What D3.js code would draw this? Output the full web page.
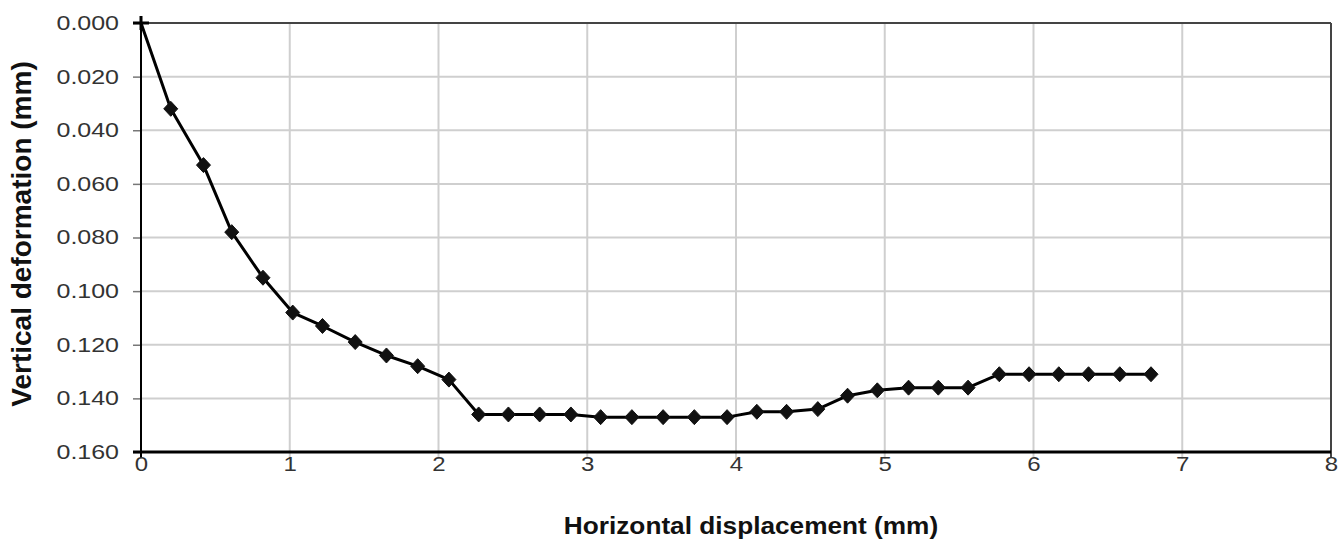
<!DOCTYPE html>
<html>
<head>
<meta charset="utf-8">
<script src="https://cdn.jsdelivr.net/npm/d3@7"></script>
<style>
html,body{margin:0;padding:0;background:#fff;}
svg{display:block;font-family:Arial,"Liberation Sans",sans-serif;}
</style>
</head>
<body>
<svg id="chart" width="1343" height="542"></svg>
<script>
// Data
const xValues = [0, 0.20, 0.42, 0.61, 0.82, 1.02, 1.22, 1.44, 1.65, 1.86, 2.07, 2.27, 2.47, 2.68, 2.89, 3.09, 3.30, 3.51, 3.72, 3.94, 4.14, 4.34, 4.55, 4.75, 4.95, 5.16, 5.36, 5.56, 5.77, 5.97, 6.17, 6.37, 6.58, 6.79];
const yValues = [0.000, 0.032, 0.053, 0.078, 0.095, 0.108, 0.113, 0.119, 0.124, 0.128, 0.133, 0.146, 0.146, 0.146, 0.146, 0.147, 0.147, 0.147, 0.147, 0.147, 0.145, 0.145, 0.144, 0.139, 0.137, 0.136, 0.136, 0.136, 0.131, 0.131, 0.131, 0.131, 0.131, 0.131];
const xTicks = [0, 1, 2, 3, 4, 5, 6, 7, 8];
const yTicks = [0, 0.02, 0.04, 0.06, 0.08, 0.10, 0.12, 0.14, 0.16];
const xTitle = "Horizontal displacement (mm)";
const yTitle = "Vertical deformation (mm)";

const svg = d3.select("#chart");
const pL = 141, pR = 1331, pT = 23, pB = 452;
const x = d3.scaleLinear().domain([0, 8]).range([pL, pR]);
const y = d3.scaleLinear().domain([0, 0.16]).range([pT, pB]);

// Gridlines
svg.append("g").selectAll("line").data(yTicks.slice(1, -1)).join("line")
  .attr("x1", pL).attr("x2", pR)
  .attr("y1", d => y(d)).attr("y2", d => y(d))
  .attr("stroke", "#cfcfcf").attr("stroke-width", 2);
svg.append("g").selectAll("line").data(xTicks.slice(1, -1)).join("line")
  .attr("y1", pT).attr("y2", pB + 7)
  .attr("x1", d => x(d)).attr("x2", d => x(d))
  .attr("stroke", "#cfcfcf").attr("stroke-width", 2);

// Frame top & right
svg.append("line").attr("x1", pL).attr("x2", pR).attr("y1", pT).attr("y2", pT)
  .attr("stroke", "#444").attr("stroke-width", 2);
svg.append("line").attr("x1", pR).attr("x2", pR).attr("y1", pT).attr("y2", pB + 6)
  .attr("stroke", "#444").attr("stroke-width", 2);

// Y axis
const yAxis = d3.axisLeft(y).tickValues(yTicks).tickFormat(d3.format(".3f")).tickSize(8).tickPadding(14);
const gy = svg.append("g").attr("transform", `translate(${pL},0)`).call(yAxis);
gy.select(".domain").remove();
gy.selectAll(".tick line").attr("stroke", "#777").attr("stroke-width", 1.5);
gy.selectAll(".tick text")
  .attr("fill", "#333").attr("font-size", 20)
  .attr("transform", "scale(1.25,1)").attr("x", -22 / 1.25);
svg.append("line").attr("x1", pL).attr("x2", pL).attr("y1", pT - 7).attr("y2", pB + 6)
  .attr("stroke", "#000").attr("stroke-width", 2);

// X axis
const xAxis = d3.axisBottom(x).tickValues(xTicks).tickFormat(d3.format("d")).tickSize(0).tickPadding(5);
const gx = svg.append("g").attr("transform", `translate(0,${pB})`).call(xAxis);
gx.select(".domain").remove();
gx.selectAll(".tick text").attr("fill", "#333").attr("font-size", 20)
  .attr("transform", "scale(1.2,1)");
svg.append("line").attr("x1", pL - 8).attr("x2", pR).attr("y1", pB).attr("y2", pB)
  .attr("stroke", "#000").attr("stroke-width", 3);

// Line
const line = d3.line().x((d, i) => x(xValues[i])).y(d => y(d));
svg.append("path").datum(yValues).attr("d", line)
  .attr("fill", "none").attr("stroke", "#000").attr("stroke-width", 3)
  .attr("stroke-linejoin", "round");

// Markers
const pts = yValues.map((v, i) => [xValues[i], v]);
svg.append("g").selectAll("path").data(pts.slice(1)).join("path")
  .attr("transform", d => `translate(${x(d[0])},${y(d[1])})`)
  .attr("d", "M0,-7.5L7,0L0,7.5L-7,0Z")
  .attr("fill", "#111").attr("stroke", "#111").attr("stroke-width", 1);
// First point: plus marker
svg.append("g").selectAll("path").data(pts.slice(0, 1)).join("path")
  .attr("transform", d => `translate(${x(d[0])},${y(d[1])})`)
  .attr("d", "M-8,0H8M0,-7V7")
  .attr("stroke", "#000").attr("stroke-width", 3);

// Titles
const xs = 1.14;
svg.append("text").attr("x", 751 / xs).attr("y", 534)
  .attr("transform", `scale(${xs},1)`)
  .attr("text-anchor", "middle").attr("font-weight", "bold").attr("font-size", 23)
  .attr("fill", "#111").text(xTitle);
svg.append("text")
  .attr("transform", `translate(31,${(58 + 410) / 2}) rotate(-90)`)
  .attr("text-anchor", "middle").attr("font-weight", "bold").attr("font-size", 28)
  .attr("fill", "#111").text(yTitle);
</script>
</body>
</html>
